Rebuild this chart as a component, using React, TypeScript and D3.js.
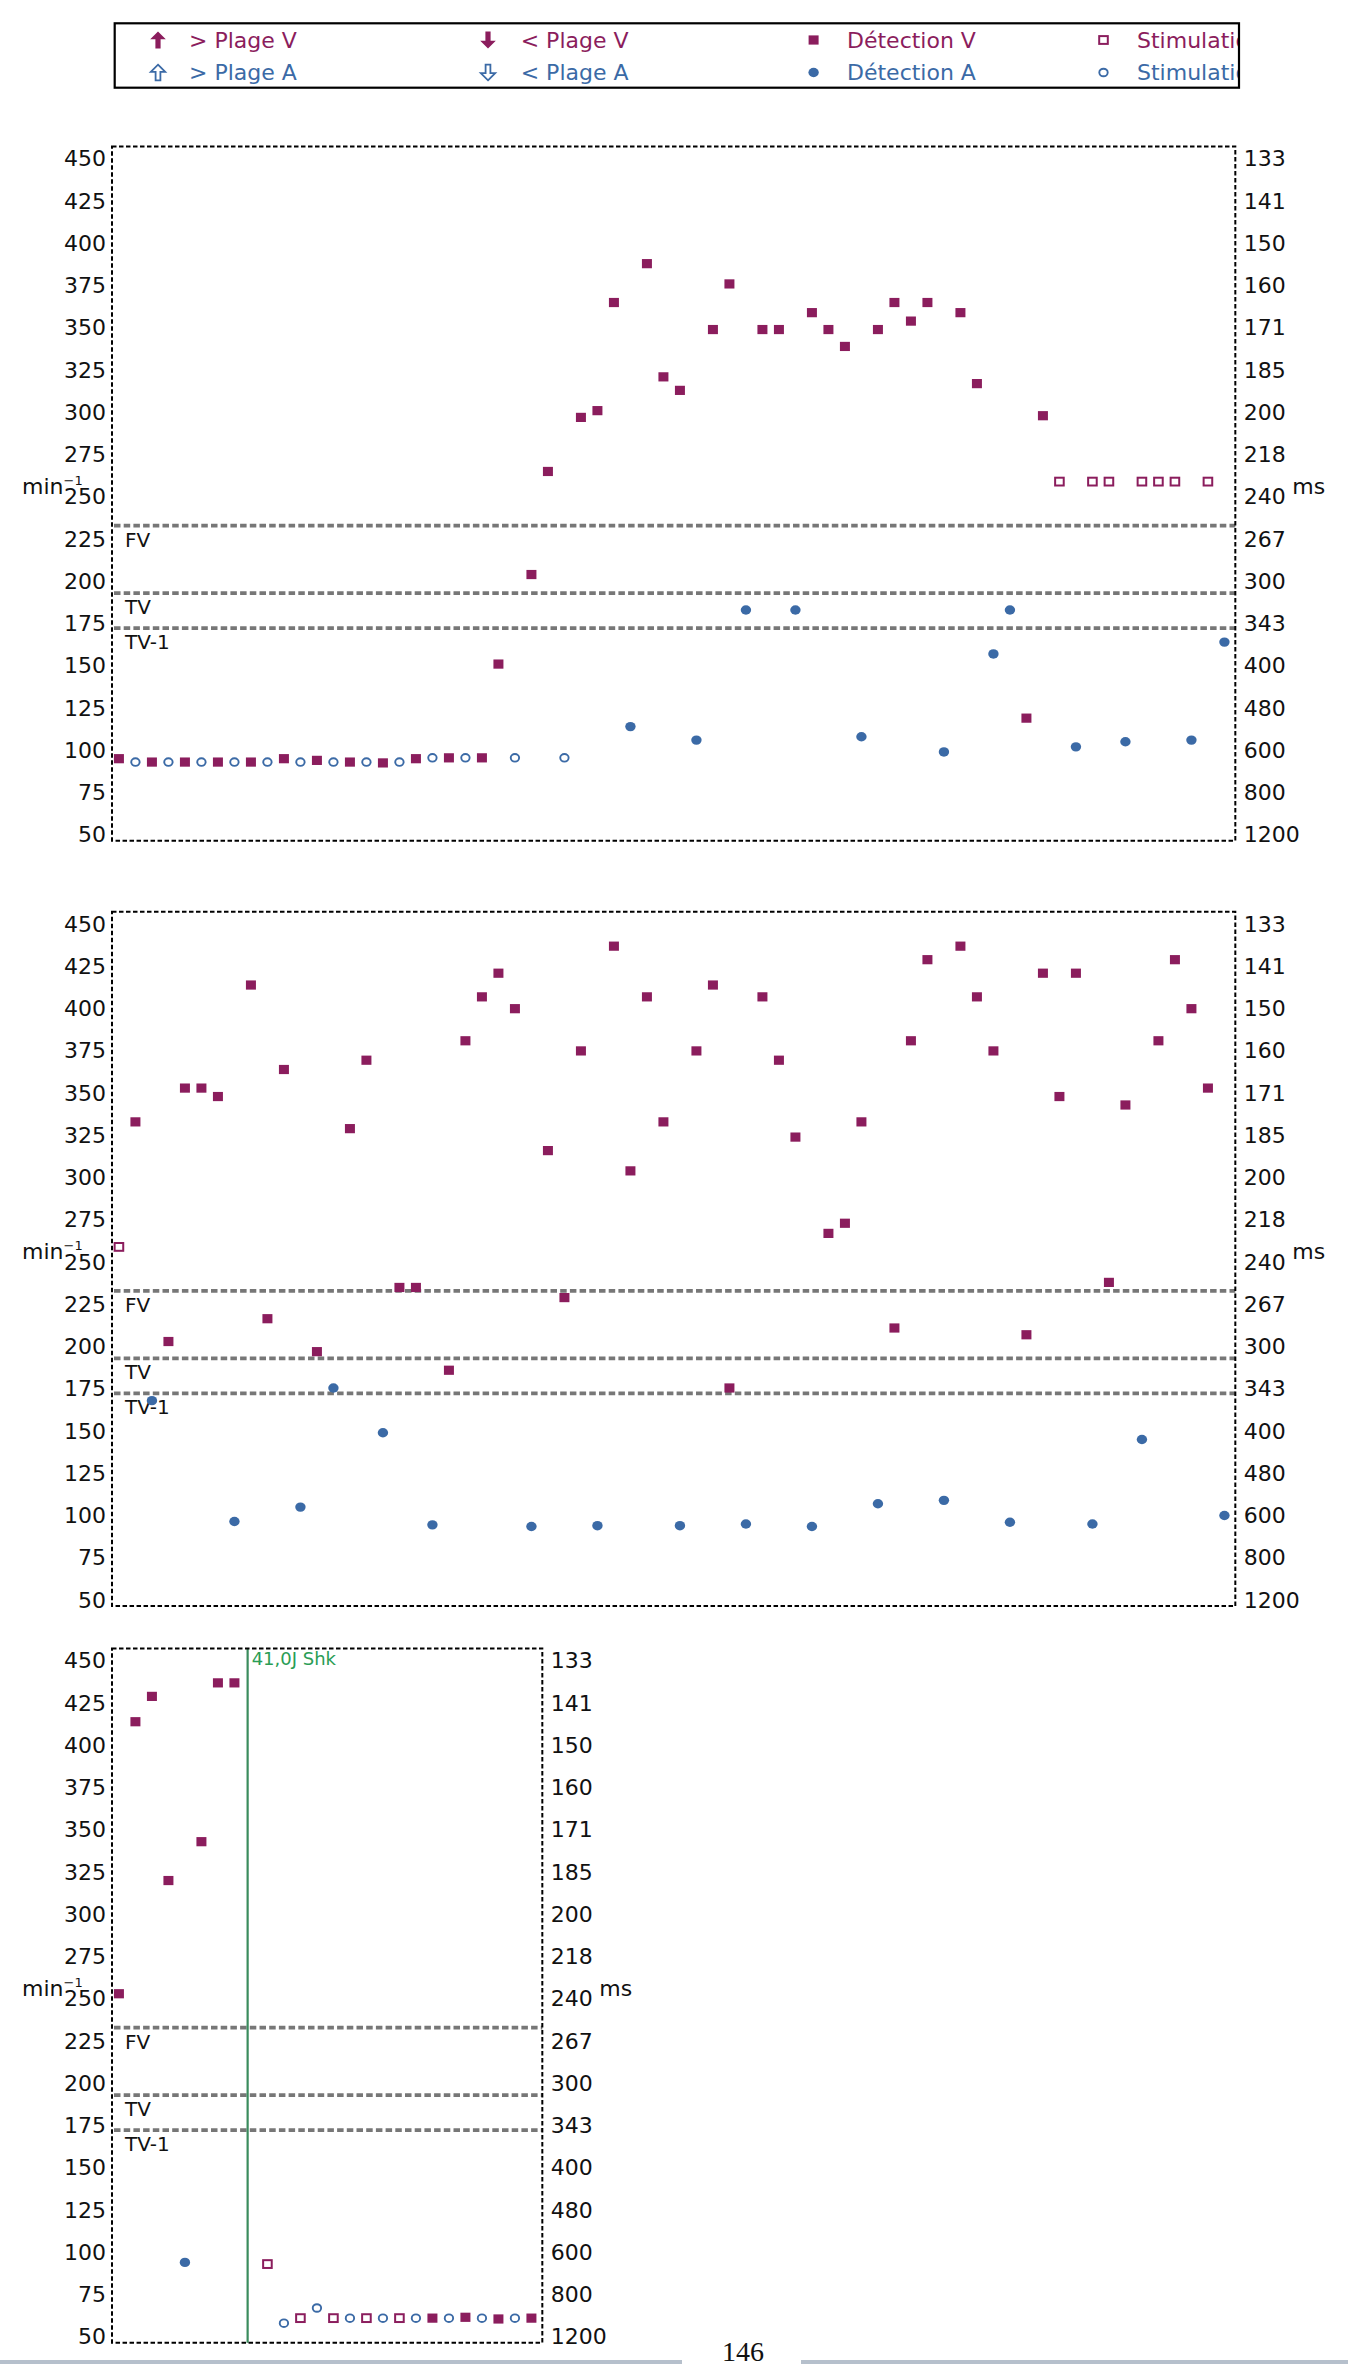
import React, { useEffect, useRef } from 'react';
import * as d3 from 'd3';

// ── Colours / fonts ───────────────────────────────────────────────────────────
const PURPLE = '#8b1d5d';
const BLUE = '#3b6aa6';
const GREEN_LINE = '#3a8c5d';
const GREEN_TEXT = '#2a9d55';
const FONT = '"DejaVu Sans", Verdana, sans-serif';

// ── Data ──────────────────────────────────────────────────────────────────────
// event kinds: dv = Détection V, da = Détection A, sv = Stimulation V, sa = Stimulation A
// x of every event is its slot index in the strip, y is the rate in min⁻¹
const rateTicks = [50, 75, 100, 125, 150, 175, 200, 225, 250, 275, 300, 325, 350, 375, 400, 425, 450];
const msLabels = ['1200', '800', '600', '480', '400', '343', '300', '267', '240', '218', '200', '185', '171', '160', '150', '141', '133'];

const zoneNames = ['FV', 'TV', 'TV-1'];
const zoneRates = [233, 193, 172.3];

const legendKinds = ['upV', 'downV', 'dv', 'sv', 'upA', 'downA', 'da', 'sa'];
const legendLabels = ['> Plage V', '< Plage V', 'Détection V', 'Stimulation V', '> Plage A', '< Plage A', 'Détection A', 'Stimulation A'];

const panel1Kinds = [
  'dv', 'sa', 'dv', 'sa', 'dv', 'sa', 'dv', 'sa', 'dv', 'sa',
  'dv', 'sa', 'dv', 'sa', 'dv', 'sa', 'dv', 'sa', 'dv', 'sa',
  'dv', 'sa', 'dv', 'dv', 'sa', 'dv', 'dv', 'sa', 'dv', 'dv',
  'dv', 'da', 'dv', 'dv', 'dv', 'da', 'dv', 'dv', 'da', 'dv',
  'dv', 'da', 'dv', 'dv', 'dv', 'da', 'dv', 'dv', 'dv', 'dv',
  'da', 'dv', 'dv', 'da', 'da', 'dv', 'dv', 'sv', 'da', 'sv',
  'sv', 'da', 'sv', 'sv', 'sv', 'da', 'sv', 'da',
];
const panel1Rates = [
  95, 93, 93, 93, 93, 93, 93, 93, 93, 93,
  95, 93, 94, 93, 93, 93, 92.5, 93, 95, 95.5,
  95.5, 95.5, 95.5, 151, 95.5, 204, 265, 95.5, 297, 301,
  365, 114, 388, 321, 313, 106, 349, 376, 183, 349,
  349, 183, 359, 349, 339, 108, 349, 365, 354, 365,
  99, 359, 317, 157, 183, 119, 298, 259, 102, 259,
  259, 105, 259, 259, 259, 106, 259, 164,
];

const panel2Kinds = [
  'sv', 'dv', 'da', 'dv', 'dv', 'dv', 'dv', 'da', 'dv', 'dv',
  'dv', 'da', 'dv', 'da', 'dv', 'dv', 'da', 'dv', 'dv', 'da',
  'dv', 'dv', 'dv', 'dv', 'dv', 'da', 'dv', 'dv', 'dv', 'da',
  'dv', 'dv', 'dv', 'dv', 'da', 'dv', 'dv', 'dv', 'da', 'dv',
  'dv', 'dv', 'da', 'dv', 'dv', 'dv', 'da', 'dv', 'dv', 'dv',
  'da', 'dv', 'dv', 'dv', 'da', 'dv', 'dv', 'dv', 'dv', 'da',
  'dv', 'dv', 'da', 'dv', 'dv', 'dv', 'dv', 'da',
];
const panel2Rates = [
  259, 333, 168, 203, 353, 353, 348, 96.5, 414, 216.5,
  364, 105, 197, 175.5, 329, 369.5, 149, 235, 235, 94.5,
  186, 381, 407, 421, 400, 93.5, 316, 229, 375, 94,
  437, 304, 407, 333, 94, 375, 414, 175.5, 95, 407,
  369.5, 324, 93.5, 267, 273, 333, 107, 211, 381, 429,
  109, 437, 407, 375, 96, 207, 421, 348, 421, 95,
  238, 343, 145, 381, 429, 400, 353, 100,
];

const panel3Kinds = [
  'dv', 'dv', 'dv', 'dv', 'da', 'dv', 'dv', 'dv', null, 'sv',
  'sa', 'sv', 'sa', 'sv', 'sa', 'sv', 'sa', 'sv', 'sa', 'dv',
  'sa', 'dv', 'sa', 'dv', 'sa', 'dv',
];
const panel3Rates = [
  253, 414, 429, 320, 94, 343, 437, 437, null, 93,
  58, 61, 67, 61, 61, 61, 61, 61, 61, 61,
  61, 61.5, 61, 60.5, 61, 61,
];
const panel3ShockAt = 7.8;
const panel3ShockText = '41,0J Shk';

// ── Layout ────────────────────────────────────────────────────────────────────
const LEFT = 112;
const SLOT = 16.5;
const PANEL_H = 694.4;
const RATE_DOMAIN: [number, number] = [46.4, 457.4];

// ── Marker glyphs ─────────────────────────────────────────────────────────────
const ARROW = 'M0,-6.5L6,-0.5L2,-0.5L2,6.5L-2,6.5L-2,-0.5L-6,-0.5Z';

function Marker({ kind, x, y }: { kind: string; x: number; y: number }) {
  switch (kind) {
    case 'dv':
      return <rect x={x - 5} y={y - 4.6} width={10} height={9.2} fill={PURPLE} />;
    case 'sv':
      return <rect x={x - 4.3} y={y - 3.9} width={8.6} height={7.8} fill="#fff" stroke={PURPLE} strokeWidth={2} />;
    case 'da':
      return <ellipse cx={x} cy={y} rx={5.2} ry={4.7} fill={BLUE} />;
    case 'sa':
      return <ellipse cx={x} cy={y} rx={4.2} ry={3.8} fill="#fff" stroke={BLUE} strokeWidth={1.9} />;
    case 'upV':
      return <path d={ARROW} transform={`translate(${x},${y}) scale(1.3)`} fill={PURPLE} />;
    case 'downV':
      return <path d={ARROW} transform={`translate(${x},${y}) scale(1.3,-1.3)`} fill={PURPLE} />;
    case 'upA':
      return <path d={ARROW} transform={`translate(${x},${y}) scale(1.2)`} fill="#fff" stroke={BLUE} strokeWidth={1.5} />;
    case 'downA':
      return <path d={ARROW} transform={`translate(${x},${y}) scale(1.2,-1.2)`} fill="#fff" stroke={BLUE} strokeWidth={1.5} />;
    default:
      return null;
  }
}

// ── One strip ─────────────────────────────────────────────────────────────────
interface PanelProps {
  top: number;
  kinds: (string | null)[];
  rates: (number | null)[];
  shockAt?: number;
  shockText?: string;
}

function Panel({ top, kinds, rates, shockAt, shockText }: PanelProps) {
  const n = kinds.length;
  const width = (n + 0.08) * SLOT;
  const x = d3.scaleLinear().domain([-0.42, n - 0.34]).range([0, width]);
  const y = d3.scaleLinear().domain(RATE_DOMAIN).range([PANEL_H, 0]);

  const leftRef = useRef<SVGGElement>(null);
  const rightRef = useRef<SVGGElement>(null);

  useEffect(() => {
    if (!leftRef.current || !rightRef.current) return;
    const left = d3.axisLeft(y).tickValues(rateTicks).tickSize(0).tickPadding(6);
    const right = d3
      .axisRight(y)
      .tickValues(rateTicks)
      .tickSize(0)
      .tickPadding(8.5)
      .tickFormat((_, i) => msLabels[i]);
    for (const [ref, axis] of [[leftRef, left], [rightRef, right]] as const) {
      const g = d3.select(ref.current!);
      g.call(axis as any);
      g.select('.domain').remove();
      g.attr('font-family', FONT).attr('font-size', 22).attr('color', '#111');
    }
  }, [n]);

  return (
    <g transform={`translate(${LEFT},${top})`}>
      {/* zone thresholds */}
      {zoneRates.map((r, i) => (
        <g key={zoneNames[i]}>
          <line x1={2} x2={width} y1={y(r)} y2={y(r)} stroke="#777" strokeWidth={3.8} strokeDasharray="6.5,3.2" />
          <text x={13} y={y(r) + 21} fontSize={20} fontFamily={FONT} fill="#111">
            {zoneNames[i]}
          </text>
        </g>
      ))}

      {/* shock marker */}
      {shockAt !== undefined && (
        <g>
          <line x1={x(shockAt)} x2={x(shockAt)} y1={0} y2={PANEL_H} stroke={GREEN_LINE} strokeWidth={2.2} />
          <text x={x(shockAt) + 4} y={17} fontSize={18} fontFamily={FONT} fill={GREEN_TEXT}>
            {shockText}
          </text>
        </g>
      )}

      {/* events */}
      {kinds.map((k, i) =>
        k && rates[i] != null ? <Marker key={i} kind={k} x={x(i)} y={y(rates[i] as number)} /> : null,
      )}

      {/* dashed frame */}
      <rect x={0} y={0} width={width} height={PANEL_H} fill="none" stroke="#000" strokeWidth={2} strokeDasharray="4.5,2.5" />

      <g ref={leftRef} />
      <g ref={rightRef} transform={`translate(${width},0)`} />

      {/* axis units */}
      <text x={22 - LEFT} y={PANEL_H / 2} fontSize={22} fontFamily={FONT} fill="#111">
        min
        <tspan dy={-9} fontSize={13}>
          −1
        </tspan>
      </text>
      <text x={width + 57} y={PANEL_H / 2} fontSize={22} fontFamily={FONT} fill="#111">
        ms
      </text>
    </g>
  );
}

// ── Legend ────────────────────────────────────────────────────────────────────
const LEGEND = { x: 114.7, y: 23.3, w: 1124.3, h: 64.4 };
const legendMarkerX = [158, 488, 813.6, 1103.5];
const legendTextX = [189, 520.7, 847, 1137];
const legendRowY = [40, 72.5];

function Legend() {
  return (
    <g>
      <defs>
        <clipPath id="legend-clip">
          <rect x={LEGEND.x} y={LEGEND.y} width={LEGEND.w} height={LEGEND.h} />
        </clipPath>
      </defs>
      <g clipPath="url(#legend-clip)">
        {legendKinds.map((k, i) => {
          const col = i % 4;
          const row = Math.floor(i / 4);
          return (
            <g key={k}>
              <Marker kind={k} x={legendMarkerX[col]} y={legendRowY[row]} />
              <text
                x={legendTextX[col]}
                y={legendRowY[row]}
                dy="0.36em"
                fontSize={22}
                fontFamily={FONT}
                fill={row === 0 ? PURPLE : BLUE}
              >
                {legendLabels[i]}
              </text>
            </g>
          );
        })}
      </g>
      <rect x={LEGEND.x} y={LEGEND.y} width={LEGEND.w} height={LEGEND.h} fill="none" stroke="#000" strokeWidth={2.2} />
    </g>
  );
}

export default function App() {
  return (
    <svg
      width={1348}
      height={2366}
      style={{ position: 'absolute', left: 0, top: 0, background: '#fff' }}
    >
      <rect width={1348} height={2366} fill="#fff" />
      <Legend />
      <Panel top={146.4} kinds={panel1Kinds} rates={panel1Rates} />
      <Panel top={911.7} kinds={panel2Kinds} rates={panel2Rates} />
      <Panel top={1648.4} kinds={panel3Kinds} rates={panel3Rates} shockAt={panel3ShockAt} shockText={panel3ShockText} />

      {/* page footer */}
      <line x1={0} x2={682} y1={2362} y2={2362} stroke="#b6c0cc" strokeWidth={4} />
      <line x1={801} x2={1348} y1={2362} y2={2362} stroke="#b6c0cc" strokeWidth={4} />
      <text x={743} y={2361} textAnchor="middle" fontSize={28} fontFamily='"Liberation Serif", "DejaVu Serif", serif' fill="#111">
        146
      </text>
    </svg>
  );
}
